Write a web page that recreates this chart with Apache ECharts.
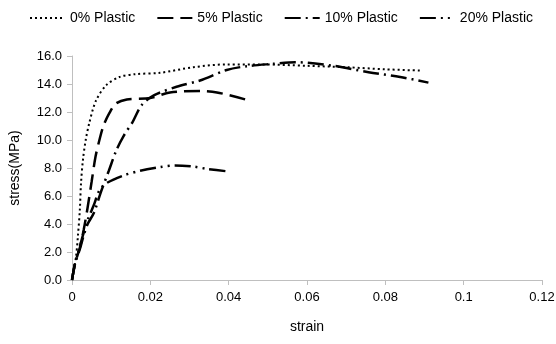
<!DOCTYPE html>
<html>
<head>
<meta charset="utf-8">
<script src="https://cdn.jsdelivr.net/npm/echarts@6/dist/echarts.min.js"></script>
<style>
  html, body { margin: 0; padding: 0; background: #fff; }
  #chart { width: 556px; height: 344px; }
</style>
</head>
<body>
<div id="chart"></div>
<script>
// 曲线数据
var seriesNames = ['0% Plastic', '5% Plastic', '10% Plastic', '20% Plastic'];

var strain0 = [0, 0.001, 0.0015, 0.002, 0.0023, 0.0028, 0.0035, 0.0044, 0.0061, 0.0087, 0.0121, 0.016, 0.0225, 0.031, 0.0395, 0.048, 0.06, 0.07, 0.08, 0.089];
var stress0 = [0, 1.6, 3.1, 5.0, 6.9, 8.6, 10.0, 11.2, 12.8, 13.9, 14.5, 14.7, 14.8, 15.2, 15.4, 15.4, 15.3, 15.2, 15.05, 14.96];

var strain5 = [0, 0.0008, 0.002, 0.003, 0.004, 0.005, 0.006, 0.007, 0.008, 0.0095, 0.0112, 0.014, 0.02, 0.025, 0.0327, 0.037, 0.0442];
var stress5 = [0, 1.2, 2.3, 3.6, 5.2, 7.0, 8.8, 10.0, 11.0, 11.9, 12.6, 12.9, 13.0, 13.4, 13.5, 13.4, 12.9];

var strain10 = [0, 0.0008, 0.002, 0.003, 0.004, 0.0056, 0.0074, 0.0094, 0.0113, 0.0132, 0.0155, 0.0178, 0.021, 0.0267, 0.0327, 0.0395, 0.0446, 0.0514, 0.057, 0.0668, 0.0757, 0.0838, 0.091];
var stress10 = [0, 1.2, 2.2, 3.2, 4.0, 4.8, 6.3, 7.8, 9.25, 10.3, 11.3, 12.5, 13.2, 13.8, 14.25, 15.0, 15.27, 15.44, 15.56, 15.3, 14.84, 14.5, 14.1];

var strain20 = [0, 0.0008, 0.002, 0.003, 0.004, 0.0055, 0.007, 0.0087, 0.0131, 0.0174, 0.0225, 0.0263, 0.031, 0.0344, 0.04];
var stress20 = [0, 1.2, 2.4, 3.4, 4.3, 5.3, 6.4, 6.9, 7.46, 7.8, 8.06, 8.18, 8.1, 7.94, 7.75];

var allStrain = [strain0, strain5, strain10, strain20];
var allStress = [stress0, stress5, stress10, stress20];
var dashTypes = [[2, 3], [16, 7], [16, 5, 2, 5], [16, 5, 2, 5, 2, 5]];
var lineWidths = [2, 2.5, 2.5, 2.5];

function pairs(xs, ys) {
    return xs.map(function (x, i) { return [x, ys[i]]; });
}

var font = 'Liberation Sans';
var myChart = echarts.init(document.getElementById('chart'));

var series = seriesNames.map(function (name, i) {
    return {
        name: name,
        type: 'line',
        smooth: 0.3,
        symbol: 'none',
        data: pairs(allStrain[i], allStress[i]),
        lineStyle: { color: '#000', width: lineWidths[i], type: dashTypes[i] },
        itemStyle: { color: '#000' }
    };
});

var option = {
    animation: false,
    legend: {
        data: seriesNames,
        top: 6,
        left: 24,
        itemWidth: 35,
        itemHeight: 10,
        itemGap: 21,
        itemStyle: { opacity: 0 },
        textStyle: { fontFamily: font, fontSize: 14, color: '#000' }
    },
    grid: {
        left: 72,
        right: 14,
        top: 56,
        bottom: 64,
        outerBoundsMode: 'none'
    },
    xAxis: {
        type: 'value',
        min: 0,
        max: 0.12,
        interval: 0.02,
        name: 'strain',
        nameLocation: 'middle',
        nameGap: 40,
        nameTextStyle: { fontFamily: font, fontSize: 14, color: '#000' },
        axisLine: { lineStyle: { color: '#bfbfbf' } },
        axisTick: { show: true, length: 5, lineStyle: { color: '#bfbfbf' } },
        axisLabel: { fontFamily: font, fontSize: 13, color: '#000', margin: 11 },
        splitLine: { show: false }
    },
    yAxis: {
        type: 'value',
        min: 0,
        max: 16,
        interval: 2,
        name: 'stress(MPa)',
        nameLocation: 'middle',
        nameGap: 50,
        nameTextStyle: { fontFamily: font, fontSize: 14, color: '#000' },
        axisLine: { show: true, lineStyle: { color: '#bfbfbf' } },
        axisTick: { show: true, length: 5, lineStyle: { color: '#bfbfbf' } },
        axisLabel: {
            fontFamily: font, fontSize: 13, color: '#000', margin: 10,
            formatter: function (v) { return v.toFixed(1); }
        },
        splitLine: { show: false }
    },
    series: series
};
myChart.setOption(option);
</script>
</body>
</html>
